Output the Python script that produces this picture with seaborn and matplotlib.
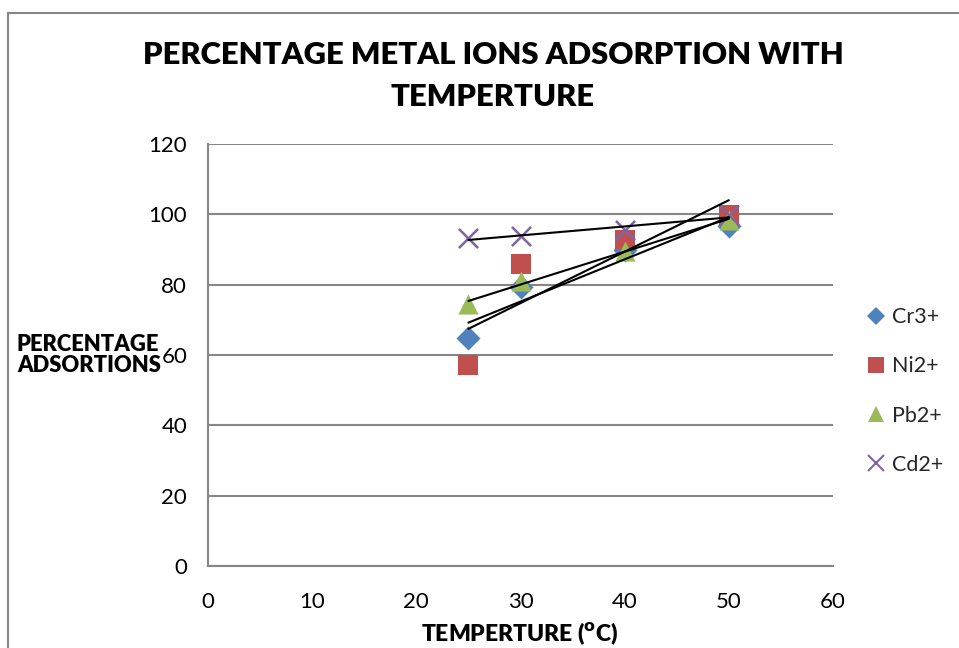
import numpy as np
import pandas as pd
import matplotlib
matplotlib.use("Agg")
import matplotlib.pyplot as plt
import seaborn as sns
from matplotlib.lines import Line2D

temps = [25, 30, 40, 50]
cr3 = [64.8, 79.3, 90.0, 96.7]
ni2 = [57.2, 85.9, 92.7, 99.8]
pb2 = [74.5, 81.0, 89.6, 98.4]
cd2 = [93.3, 93.8, 95.5, 99.8]
series_names = ["Cr3+", "Ni2+", "Pb2+", "Cd2+"]
x_ticks = [0, 10, 20, 30, 40, 50, 60]
y_ticks = [0, 20, 40, 60, 80, 100, 120]

colors = {"Cr3+": "#4F81BD", "Ni2+": "#C0504D", "Pb2+": "#9BBB59", "Cd2+": "#8064A2"}
markers = {"Cr3+": "D", "Ni2+": "s", "Pb2+": "^", "Cd2+": "x"}
sizes = {"Cr3+": 150, "Ni2+": 190, "Pb2+": 210, "Cd2+": 190}

rows = []
for name, vals in zip(series_names, [cr3, ni2, pb2, cd2]):
    for t, v in zip(temps, vals):
        rows.append({"temp": t, "val": v, "series": name})
df = pd.DataFrame(rows)

sns.set_style("white")
plt.rcParams['font.family'] = ['Lato', 'DejaVu Sans']

fig = plt.figure(figsize=(9.59, 6.48), dpi=100)
W, H = 959, 648
ax = fig.add_axes([208 / W, 1 - 566 / H, (833 - 208) / W, (566 - 144) / H])

gray = "#868686"
for name in series_names:
    sub = df[df.series == name]
    lw = 1.8 if name == "Cd2+" else 0
    sns.scatterplot(data=sub, x="temp", y="val", ax=ax, marker=markers[name],
                    color=colors[name], s=sizes[name], linewidth=lw,
                    edgecolor=colors[name] if name != "Cd2+" else None,
                    zorder=3, legend=False)
for name in series_names:
    sub = df[df.series == name]
    sns.regplot(data=sub, x="temp", y="val", ax=ax, scatter=False, ci=None,
                truncate=True, color="black", line_kws={"lw": 1.5, "zorder": 4})

ax.set_xlim(0, 60)
ax.set_ylim(0, 120)
ax.set_xticks(x_ticks)
ax.set_yticks(y_ticks)
ax.set_xlabel("")
ax.set_ylabel("")
ax.yaxis.grid(True, color=gray, lw=1.5)
ax.xaxis.grid(False)
for s in ["top", "right"]:
    ax.spines[s].set_visible(False)
for s in ["left", "bottom"]:
    ax.spines[s].set_color(gray)
    ax.spines[s].set_linewidth(1.5)
ax.tick_params(axis="both", direction="out", length=6, width=1.5, color=gray,
               labelsize=16, labelcolor="black")
ax.tick_params(axis="x", pad=13)
ax.tick_params(axis="y", pad=9)

fig.text(493 / W, 1 - 55 / H, "PERCENTAGE METAL IONS ADSORPTION WITH",
         ha="center", va="center", fontsize=22.3, fontweight="heavy", color="black")
fig.text(493 / W, 1 - 97 / H, "TEMPERTURE",
         ha="center", va="center", fontsize=22.3, fontweight="heavy", color="black")
fig.text(17 / W, 1 - 355 / H, "PERCENTAGE\nADSORTIONS", ha="left", va="center",
         fontsize=15.8, fontweight="heavy", linespacing=1.05, color="black")
fig.text(520 / W, 1 - 634 / H, r"TEMPERTURE ($^{\mathbf{o}}$C)", ha="center",
         va="center", fontsize=16.5, fontweight="heavy", color="black")

handles = [Line2D([], [], linestyle="none", marker=markers[n], color=colors[n],
                  markersize=11 if n != "Cr3+" else 9.5,
                  markeredgewidth=1.5 if n == "Cd2+" else 0)
           for n in series_names]
fig.legend(handles, series_names, loc="center left",
           bbox_to_anchor=(842 / W, 1 - 391 / H), frameon=False,
           fontsize=15.5, handletextpad=0.0, labelspacing=1.35, handlelength=1.4)

# outer chart border
fig.add_artist(Line2D([8 / W, 8 / W], [0, 1 - 13 / H], transform=fig.transFigure,
                      color=gray, lw=1.5))
fig.add_artist(Line2D([8 / W, 1], [1 - 13 / H, 1 - 13 / H], transform=fig.transFigure,
                      color=gray, lw=1.5))

fig.savefig("out.png", dpi=100)
